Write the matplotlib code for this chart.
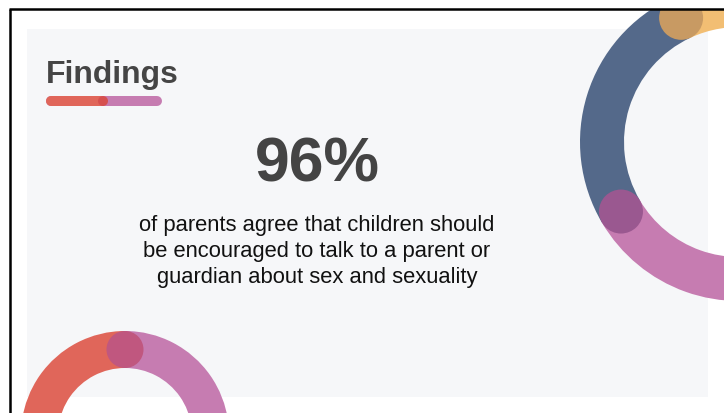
import matplotlib
matplotlib.use('Agg')
import matplotlib.pyplot as plt
import numpy as np
from matplotlib.patches import Wedge, Circle, Rectangle

plt.rcParams['font.family'] = ['Liberation Sans', 'DejaVu Sans']

W, H = 724, 414

title = 'Findings'
headline_value = 96
body_lines = ['of parents agree that children should',
              'be encouraged to talk to a parent or',
              'guardian about sex and sexuality']

# decorative rings: (start angle, end angle, colour) per segment, degrees counter-clockwise
ring_top_segments = [(-10, 115, '#F2BE73'), (115, 210.5, '#54698A'), (210.5, 370, '#C67CB1')]
ring_top_joints = [(115, '#C89A63'), (210.5, '#9A5890')]
ring_bottom_segments = [(90, 200, '#E0665A'), (-20, 90, '#C67CB1')]
ring_bottom_joints = [(90, '#C0577F')]

# underline bar made of two rounded strokes
bar_parts = [(46, 162, '#C67CB1'), (46, 106, '#E0665A')]
bar_joint_color = '#D6504F'

fig = plt.figure(figsize=(W / 100, H / 100), dpi=100)
ax = fig.add_axes([0, 0, 1, 1])
ax.set_xlim(0, W)
ax.set_ylim(H, 0)
ax.axis('off')

# everything inside the frame is clipped to it
clip = Rectangle((10, 11), W, H, transform=ax.transData, facecolor='none', edgecolor='none')
ax.add_patch(clip)

ax.add_patch(Rectangle((27, 30), 708 - 27, 398 - 30, facecolor='#F6F7F9', edgecolor='none', zorder=1))


def draw_ring(cx, cy, r_out, width, segments, joints):
    r_mid = r_out - width / 2
    for a0, a1, col in segments:
        # y axis points down, so flip the angles
        w = Wedge((cx, cy), r_out, -a1, -a0, width=width, facecolor=col, edgecolor='none', zorder=2)
        ax.add_patch(w)
        w.set_clip_path(clip)
    for a, col in joints:
        t = np.deg2rad(a)
        c = Circle((cx + r_mid * np.cos(t), cy - r_mid * np.sin(t)), width / 2,
                   facecolor=col, edgecolor='none', zorder=3)
        ax.add_patch(c)
        c.set_clip_path(clip)


draw_ring(739, 143, 159, 44, ring_top_segments, ring_top_joints)
draw_ring(125, 436, 104, 37, ring_bottom_segments, ring_bottom_joints)

# title and underline
ax.text(46, 83, title, fontsize=23, fontweight='bold', color='#454545', va='baseline', ha='left', zorder=4)
for x0, x1, col in bar_parts:
    ax.plot([x0 + 5, x1 - 5], [102, 102], color=col, lw=7.2, solid_capstyle='round', zorder=4)
ax.add_patch(Circle((bar_parts[1][1] - 3, 102), 5, facecolor=bar_joint_color, edgecolor='none', zorder=5))

ax.text(317, 182, f'{headline_value}%', fontsize=45, fontweight='bold', color='#444444',
        ha='center', va='baseline', zorder=4)
for i, line in enumerate(body_lines):
    ax.text(317, 231 + 26 * i, line, fontsize=15.8, color='#111111', ha='center', va='baseline', zorder=4)

# outer frame
ax.plot([9.5, 9.5], [9.8, H], color='black', lw=1.8, solid_capstyle='butt', zorder=6)
ax.plot([8.6, W], [9.8, 9.8], color='black', lw=1.8, solid_capstyle='butt', zorder=6)

fig.savefig('out.png', dpi=100)
